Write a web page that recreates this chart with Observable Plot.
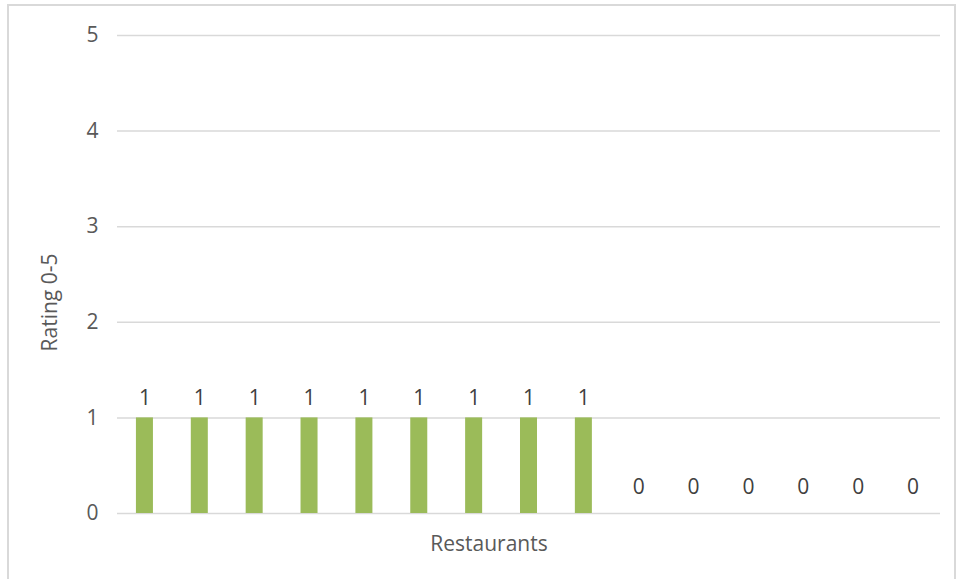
<!DOCTYPE html>
<html>
<head>
<meta charset="utf-8">
<script src="https://cdn.jsdelivr.net/npm/d3@7"></script>
<script src="https://cdn.jsdelivr.net/npm/@observablehq/plot@0.6"></script>
<style>
  html, body { margin: 0; padding: 0; background: #fff; }
  #wrap { position: relative; width: 959px; height: 579px; overflow: hidden; }
  #border { position: absolute; left: 7px; top: 4px; width: 949px; height: 600px; border: 2px solid #d9d9d9; box-sizing: border-box; }
  #chart { position: absolute; left: 0; top: 0; }
  #chart svg text { font-size: 21px; }
</style>
</head>
<body>
<div id="wrap"><div id="border"></div><div id="chart"></div></div>
<script>
const restaurants = ["R1","R2","R3","R4","R5","R6","R7","R8","R9","R10","R11","R12","R13","R14","R15"];
const ratings = [1,1,1,1,1,1,1,1,1,0,0,0,0,0,0];
const yTicks = [0,1,2,3,4,5];
const xTitle = "Restaurants";
const yTitle = "Rating 0-5";

const data = restaurants.map((r, i) => ({restaurant: r, rating: ratings[i]}));

const plot = Plot.plot({
  width: 959,
  height: 579,
  marginLeft: 117,
  marginRight: 19,
  marginTop: 35,
  marginBottom: 66,
  style: {fontFamily: "'Open Sans', sans-serif", fontSize: "21px", background: "transparent"},
  x: {domain: restaurants, paddingInner: 0.69, paddingOuter: 0.345, round: false, axis: null},
  y: {domain: [0, 5], axis: null},
  marks: [
    Plot.gridY(yTicks, {stroke: "#d9d9d9", strokeOpacity: 1, strokeWidth: 1.5}),
    Plot.axisY(yTicks, {tickSize: 0, tickPadding: 19, tickFormat: "d", fill: "#595959", label: null}),
    Plot.text([yTitle], {frameAnchor: "left", rotate: -90, textAnchor: "middle", lineAnchor: "middle", dx: -67, dy: 28, fill: "#595959", text: d => d}),
    Plot.text([xTitle], {frameAnchor: "bottom", textAnchor: "middle", dx: -40, dy: 37, fill: "#595959", text: d => d}),
    Plot.barY(data, {x: "restaurant", y: "rating", fill: "#9bbb59"}),
    Plot.text(data.filter(d => d.rating > 0), {x: "restaurant", y: "rating", text: d => String(d.rating), dy: -20, fill: "#404040"}),
    Plot.text(data.filter(d => d.rating === 0), {x: "restaurant", y: "rating", text: d => String(d.rating), dy: -26, fill: "#404040"})
  ]
});
document.getElementById("chart").appendChild(plot);
</script>
</body>
</html>
